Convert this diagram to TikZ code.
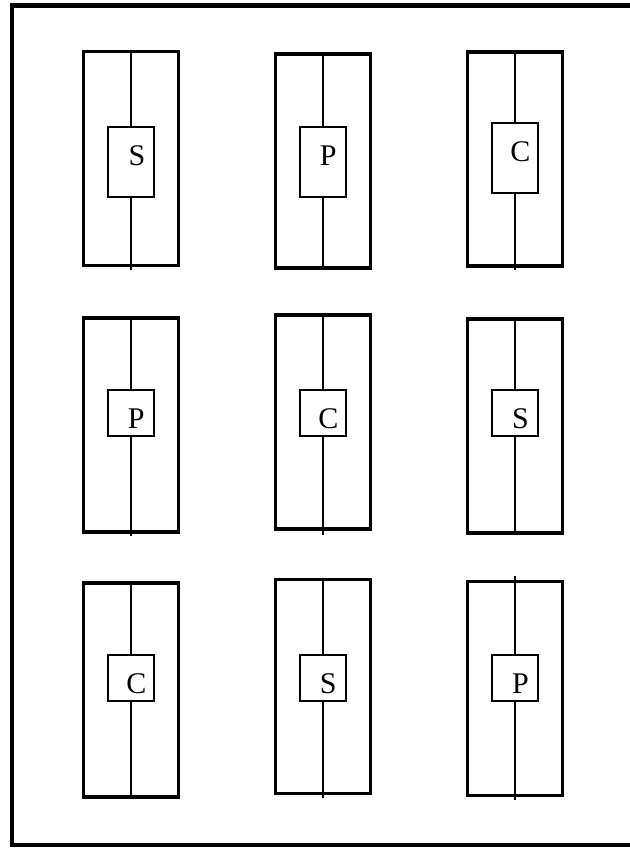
\documentclass[tikz,border=0pt]{standalone}
\usepackage{fontspec}
\setmainfont{Liberation Serif}
\usetikzlibrary{positioning}

\begin{document}
\begin{tikzpicture}[x=0.75pt,y=-0.75pt,
  frame/.style={draw,line width=2.6pt,minimum width=71.25pt,minimum height=160.5pt,inner sep=0pt},
  part/.style={draw,fill=white,line width=0.9pt,minimum width=34.5pt,minimum height=34.5pt,inner sep=0pt},
  tall/.style={minimum height=52.5pt},
  tag/.style={font=\fontsize{22.5}{26}\selectfont,inner sep=0pt},
  wire/.style={line width=1.3pt}]
\useasboundingbox (0,0) rectangle (630,848);
\draw[line width=3.6pt] (12,5.5) rectangle (640,845);
% row 1
\node[frame] (r1) at (131,158.5) {};
\node[frame] (r2) at (323,161) {};
\node[frame] (r3) at (515,159) {};
\node[part,tall] (b1) at (131,162) {};
\node[part,tall] (b2) at (323,162) {};
\node[part,tall] (b3) at (515,158) {};
% row 2
\node[frame] (r4) at (131,425) {};
\node[frame] (r5) at (323,422) {};
\node[frame] (r6) at (515,426) {};
\node[part] (b4) at (131,413) {};
\node[part] (b5) at (323,413) {};
\node[part] (b6) at (515,413) {};
% row 3
\node[frame] (r7) at (131,690) {};
\node[frame] (r8) at (323,686.5) {};
\node[frame] (r9) at (515,688.5) {};
\node[part] (b7) at (131,678) {};
\node[part] (b8) at (323,678) {};
\node[part] (b9) at (515,678) {};
% wires
\draw[wire] (r1.north) -- (b1.north) (b1.south) -- ([yshift=-2pt]r1.south);
\draw[wire] (r2.north) -- (b2.north) (b2.south) -- (r2.south);
\draw[wire] (r3.north) -- (b3.north) (b3.south) -- ([yshift=-2pt]r3.south);
\draw[wire] (r4.north) -- (b4.north) (b4.south) -- ([yshift=-1.5pt]r4.south);
\draw[wire] (r5.north) -- (b5.north) (b5.south) -- ([yshift=-3pt]r5.south);
\draw[wire] (r6.north) -- (b6.north) (b6.south) -- (r6.south);
\draw[wire] (r7.north) -- (b7.north) (b7.south) -- (r7.south);
\draw[wire] (r8.north) -- (b8.north) (b8.south) -- ([yshift=-2pt]r8.south);
\draw[wire] ([yshift=3pt]r9.north) -- (b9.north) (b9.south) -- ([yshift=-2pt]r9.south);
% labels
\node[tag] (t1) at ([xshift=4.5pt,yshift=-22pt]b1.north) {S};
\node[tag] (t2) at ([xshift=4pt,yshift=-22pt]b2.north) {P};
\node[tag] (t3) at ([xshift=4pt,yshift=-22pt]b3.north) {C};
\node[tag] (t4) at ([xshift=4pt,yshift=-22pt]b4.north) {P};
\node[tag] (t5) at ([xshift=4pt,yshift=-22pt]b5.north) {C};
\node[tag] (t6) at ([xshift=4pt,yshift=-22pt]b6.north) {S};
\node[tag] (t7) at ([xshift=4pt,yshift=-22pt]b7.north) {C};
\node[tag] (t8) at ([xshift=4pt,yshift=-22pt]b8.north) {S};
\node[tag] (t9) at ([xshift=4pt,yshift=-22pt]b9.north) {P};
\end{tikzpicture}
\end{document}
